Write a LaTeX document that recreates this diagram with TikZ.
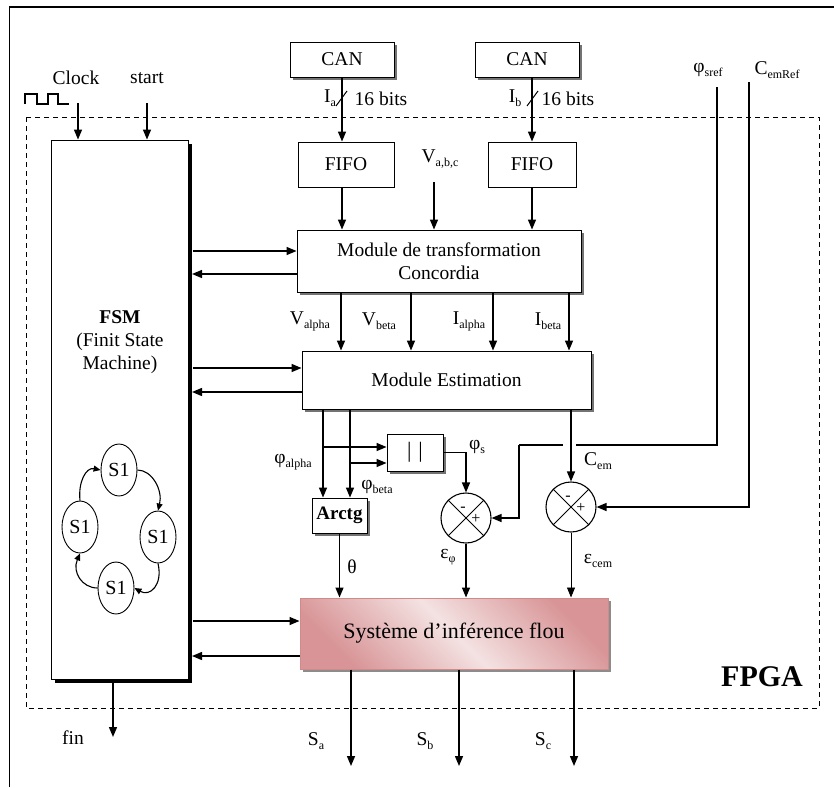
\documentclass[tikz,border=0pt]{standalone}
\usepackage{fontspec}
\setmainfont{Liberation Serif}
\usetikzlibrary{arrows.meta,shapes.geometric,shadows,calc}
\definecolor{pinkD}{HTML}{D89496}
\definecolor{pinkL}{HTML}{F4E2E2}
\definecolor{pinkB}{HTML}{D08A8A}
\newcommand{\sbs}[1]{\raisebox{-4pt}{\fontsize{12}{12}\selectfont #1}}
\begin{document}
\begin{tikzpicture}[x=1pt,y=1pt,
  every node/.style={font=\fontsize{19.5}{21}\selectfont, inner sep=0pt},
  box/.style={draw, line width=0.9pt, fill=white, inner sep=0pt},
  sbox/.style={box, drop shadow={shadow xshift=3pt, shadow yshift=-3pt, fill=black!55, opacity=1}},
  arr/.style={line width=1.4pt, -{Triangle[length=10pt,width=8pt]}},
  thinarr/.style={line width=0.8pt, -{Triangle[length=10pt,width=8pt]}},
  sarr/.style={line width=1.1pt, -{Triangle[length=7pt,width=6pt]}},
  wire/.style={line width=1.1pt},
  st/.style={draw, ellipse, line width=0.9pt, minimum width=36pt, minimum height=52pt, inner sep=0pt, font=\fontsize{20}{20}\selectfont},
  sumnode/.style={draw, circle, line width=1.1pt, minimum size=50pt, inner sep=0pt},
  sgn/.style={font=\fontsize{16}{16}\selectfont},
]
\useasboundingbox (0,0) rectangle (834,-787);
% outer frame and FPGA boundary
\draw[line width=1.3pt] (9.5,-787) -- (9.5,-7) -- (834,-7);
\draw[line width=1pt, dash pattern=on 5pt off 4pt] (26,-117) rectangle (819,-708);
\node[font=\fontsize{30}{30}\selectfont\bfseries] (fpga) at (762,-677) {FPGA};

% clock / start
\node (clk) at (76,-78) {Clock};
\node (start) at (147,-78) {start};
\draw[line width=1.2pt] (25,-104) -- (25,-94) -- (37,-94) -- (37,-104) -- (48,-104) -- (48,-94) -- (58,-94) -- (58,-104) -- (69,-104);

% FSM
\fill[black] (55,-144) rectangle (192,-683);
\node[box, minimum width=137pt, minimum height=539pt] (FSM) at (119.5,-409.5) {};
\node[align=center, font=\fontsize{19.5}{23}\selectfont] (fsmtxt) at (120,-342) {\textbf{FSM}\\(Finit State\\Machine)};
\coordinate (clkin) at (78,-103);
\coordinate (startin) at (147,-103);
\draw[arr] (clkin) -- (clkin |- FSM.north);
\draw[arr] (startin) -- (startin |- FSM.north);
\coordinate (finout) at (113,-679);
\coordinate (finend) at (113,-737);
\draw[arr] (finout) -- (finend);
\node (fin) at (73,-738) {fin};

% states
\node[st] (T) at (119,-470) {S1};
\node[st] (L) at (80,-527) {S1};
\node[st] (R) at (158,-537) {S1};
\node[st] (B) at (116,-588) {S1};
\draw[sarr] (L.north) .. controls (78,-482) and (86,-467) .. (T.west);
\draw[sarr] (T.east) .. controls (152,-470) and (163,-490) .. (R.north);
\draw[sarr] (R.south) .. controls (163,-585) and (150,-597) .. (B.east);
\draw[sarr] (B.west) .. controls (82,-588) and (72,-572) .. (L.south);

% CAN / FIFO
\node[sbox, minimum width=104pt, minimum height=35pt] (CANa) at (342,-59.5) {CAN};
\node[sbox, minimum width=104pt, minimum height=35pt] (CANb) at (527,-59.5) {CAN};
\node[box, minimum width=96pt, minimum height=45pt] (FIFOa) at (346,-164.5) {FIFO};
\node[box, minimum width=88pt, minimum height=45pt] (FIFOb) at (532,-164.5) {FIFO};
\node[sbox, minimum width=284pt, minimum height=62pt, align=center, font=\fontsize{19.5}{23}\selectfont] (Conc) at (439,-261) {Module de transformation\\Concordia};

\draw[arr] (CANa.south) -- (CANa.south |- FIFOa.north);
\draw[arr] (CANa.south |- FIFOa.south) -- (CANa.south |- Conc.north);
\draw[arr] (FIFOb.north |- CANb.south) -- (FIFOb.north);
\draw[arr] (FIFOb.south) -- (FIFOb.south |- Conc.north);
\draw[line width=1pt] (336,-106) -- (347,-91);
\draw[line width=1pt] (527,-106) -- (538,-91);
\node (Ia) at (330,-98) {I\sbs{a}};
\node (bitsa) at (381,-99) {16 bits};
\node (Ib) at (515,-98) {I\sbs{b}};
\node (bitsb) at (568,-99) {16 bits};
\node (vabc) at (440,-159) {V\sbs{a,b,c}};
\coordinate (vin) at (434,-182);
\draw[arr] (vin) -- (vin |- Conc.north);

% Estimation
\node[sbox, minimum width=289pt, minimum height=58pt] (Est) at (446.5,-380) {Module Estimation};
\foreach \xx in {341,411,493,569} {
  \draw[arr] (\xx,0 |- Conc.south) -- (\xx,0 |- Est.north);
}
\node (va) at (310,-321) {V\sbs{alpha}};
\node (vb) at (379,-321) {V\sbs{beta}};
\node (ia) at (469,-321) {I\sbs{alpha}};
\node (ib) at (548,-321) {I\sbs{beta}};

% FSM <-> modules
\coordinate (fe) at (193,0);
\draw[arr] (fe |- 0,-251) -- (Conc.west |- 0,-251);
\draw[arr] (Conc.west |- 0,-274) -- (192,-274);
\draw[arr] (fe |- 0,-368) -- (Est.west |- 0,-368);
\draw[arr] (Est.west |- 0,-392) -- (192,-392);

% abs, arctg, summers
\node[sbox, minimum width=56pt, minimum height=37pt, font=\fontsize{22}{22}\selectfont] (Abs) at (415,-452.5) {|\hspace{7pt}|};
\node[sbox, minimum width=55pt, minimum height=35pt, font=\fontsize{19}{19}\selectfont\bfseries] (Arctg) at (339.5,-515.5) {Arctg};
\node[sumnode] (S1) at (466,-518) {};
\node[sumnode] (S2) at (571,-507) {};
\foreach \s in {S1,S2} {
  \draw[line width=0.9pt] (\s.north west) -- (\s.south east);
  \draw[line width=0.9pt] (\s.north east) -- (\s.south west);
  \node[sgn] at ($(\s.center)+(-3,9)$) {-};
  \node[sgn] at ($(\s.center)+(10,-1)$) {+};
}

\coordinate (pa) at (323,0);
\coordinate (pb) at (350,0);
\draw[arr] (pa |- Est.south) -- (pa |- Arctg.north);
\draw[arr] (pb |- Est.south) -- (pb |- Arctg.north);
\draw[arr] (pa |- 0,-447) -- (Abs.west |- 0,-447);
\draw[arr] (pb |- 0,-463) -- (Abs.west |- 0,-463);
\node (phia) at (293,-462) {φ\sbs{alpha}};
\node (phib) at (377,-487) {φ\sbs{beta}};
\draw[arr] (Abs.east) -| (S1.north);
\node (phis) at (477,-447) {φ\sbs{s}};

\draw[arr] (S2.north |- Est.south) -- (S2.north);
\node (cem) at (598,-461) {C\sbs{em}};

% references
\node (phiref) at (708,-70) {φ\sbs{sref}};
\node (cemref) at (777,-70) {C\sbs{emRef}};
\coordinate (pr) at (717,-87);
\coordinate (cr) at (749,-82);
\draw[wire] (pr) -- (717,-445) -- (576,-445);
\coordinate (pr2) at (519,-445);
\draw[wire] (563,-445) -- (pr2);
\draw[arr] (pr2) |- (S1.east);
\draw[arr] (cr) |- (S2.east);

% fuzzy system
\node[draw=pinkB, line width=1pt, top color=pinkD, bottom color=pinkD, middle color=pinkL, shading angle=-45,
      drop shadow={shadow xshift=3pt, shadow yshift=-3pt, fill=black!45, opacity=1},
      minimum width=308pt, minimum height=71pt, font=\fontsize{22}{24}\selectfont] (Sys) at (454,-633.5) {Système d’inférence flou};
\draw[arr] (Arctg.south) -- (Arctg.south |- Sys.north);
\node (theta) at (352,-567) {θ};
\draw[arr] (S1.south) -- (S1.south |- Sys.north);
\node (epsphi) at (448,-557) {ε\sbs{φ}};
\draw[thinarr] (S2.south) -- (S2.south |- Sys.north);
\node (epscem) at (598,-561) {ε\sbs{cem}};

\draw[arr] (fe |- 0,-621) -- (Sys.west |- 0,-621);
\draw[arr] (Sys.west |- 0,-656) -- (192,-656);

\foreach \xx/\nm/\lx in {351/a/316,459/b/425,574/c/543} {
  \draw[arr] (\xx,0 |- Sys.south) -- (\xx,-766);
  \node at (\lx,-741) {S\sbs{\nm}};
}
\end{tikzpicture}
\end{document}
